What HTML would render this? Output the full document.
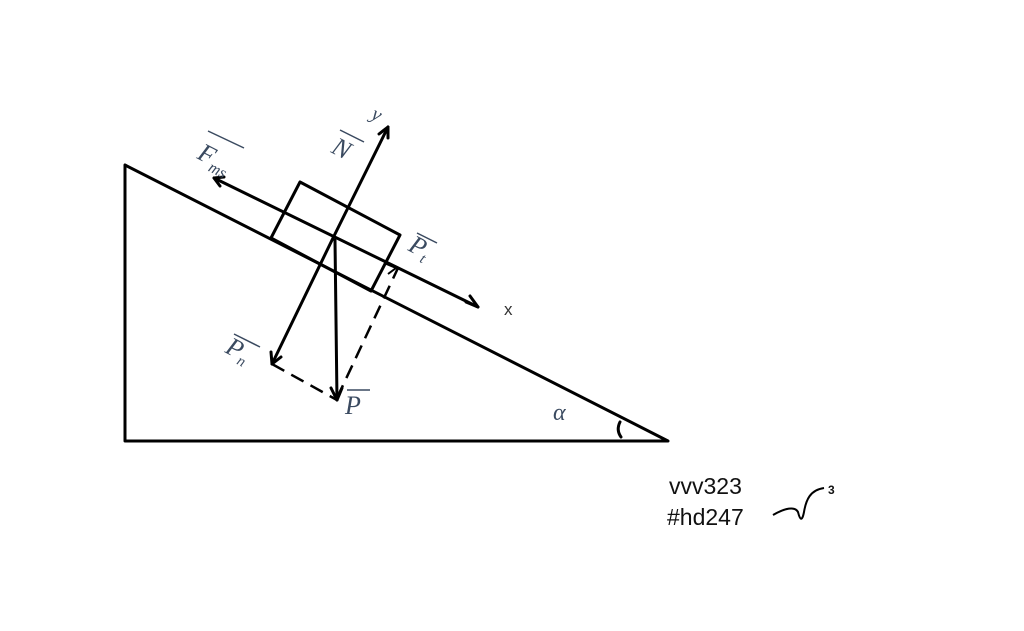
<!DOCTYPE html>
<html><head><meta charset="utf-8"><style>
html,body{margin:0;padding:0;background:#fff;}
svg{display:block}
.l{font-family:"Liberation Serif",serif;font-style:italic;fill:#3a4a60;font-size:26px}
</style></head><body>
<svg width="1024" height="631" viewBox="0 0 1024 631" xmlns="http://www.w3.org/2000/svg">
<g stroke="#000" stroke-width="3" fill="none" stroke-linecap="round" stroke-linejoin="round">
<polyline points="125,165 125,441 668,441 125,165"/>
<polygon points="271,238 300,182 400,235 371,291"/>
<line x1="214" y1="178" x2="478" y2="307"/>
<polyline points="224,177 214,178 220,186" />
<polyline points="466,302 478,307 470,296"/>
<line x1="334" y1="236" x2="388" y2="127"/>
<polyline points="379,134 388,127 388,138"/>
<line x1="334" y1="236" x2="272" y2="364"/>
<polyline points="271,352 272,364 281,357"/>
<line x1="335" y1="240" x2="337" y2="400"/>
<polyline points="331,388 337,400 342,388"/>
<path d="M620,422 Q616,430 621,437"/>
</g>
<g stroke="#000" stroke-width="2.5" fill="none" stroke-dasharray="14,8">
<line x1="272" y1="364" x2="337" y2="400"/>
<line x1="337" y1="398" x2="398" y2="268"/>
</g>
<g stroke="#000" stroke-width="2" fill="none">
<polyline points="384,263 396,268 388,274"/>
<path d="M773,515 C785,508 795,506 798,512 C800,520 802,522 804,512 C806,500 810,490 824,488"/>
</g>
<g class="l">
<text transform="translate(196,158) rotate(27)">F<tspan font-size="16" dy="6">ms</tspan></text>
<line x1="208" y1="131" x2="244" y2="148" stroke="#3a4a60" stroke-width="1.5"/>
<text transform="translate(330,152) rotate(27)">N</text>
<line x1="340" y1="130" x2="364" y2="142" stroke="#3a4a60" stroke-width="1.5"/>
<text transform="translate(370,118) rotate(27)" font-size="20">y</text>
<text transform="translate(407,250) rotate(27)">P<tspan font-size="15" dy="5">t</tspan></text>
<line x1="417" y1="233" x2="437" y2="243" stroke="#3a4a60" stroke-width="1.5"/>
<text transform="translate(224,352) rotate(27)">P<tspan font-size="15" dy="5">n</tspan></text>
<line x1="234" y1="334" x2="260" y2="347" stroke="#3a4a60" stroke-width="1.5"/>
<text x="345" y="414">P</text>
<line x1="347" y1="390" x2="370" y2="390" stroke="#3a4a60" stroke-width="1.5"/>
<text x="553" y="420" font-size="24">α</text>
</g>
<text x="504" y="315" font-family="Liberation Sans,sans-serif" font-size="17" fill="#333">x</text>
<text x="669" y="494" font-family="Liberation Sans,sans-serif" font-size="23" fill="#111">vvv323</text>
<text x="667" y="525" font-family="Liberation Sans,sans-serif" font-size="23" fill="#111">#hd247</text>
<text x="828" y="494" font-family="Liberation Sans,sans-serif" font-size="12" font-weight="bold" fill="#111">3</text>
</svg>
</body></html>
